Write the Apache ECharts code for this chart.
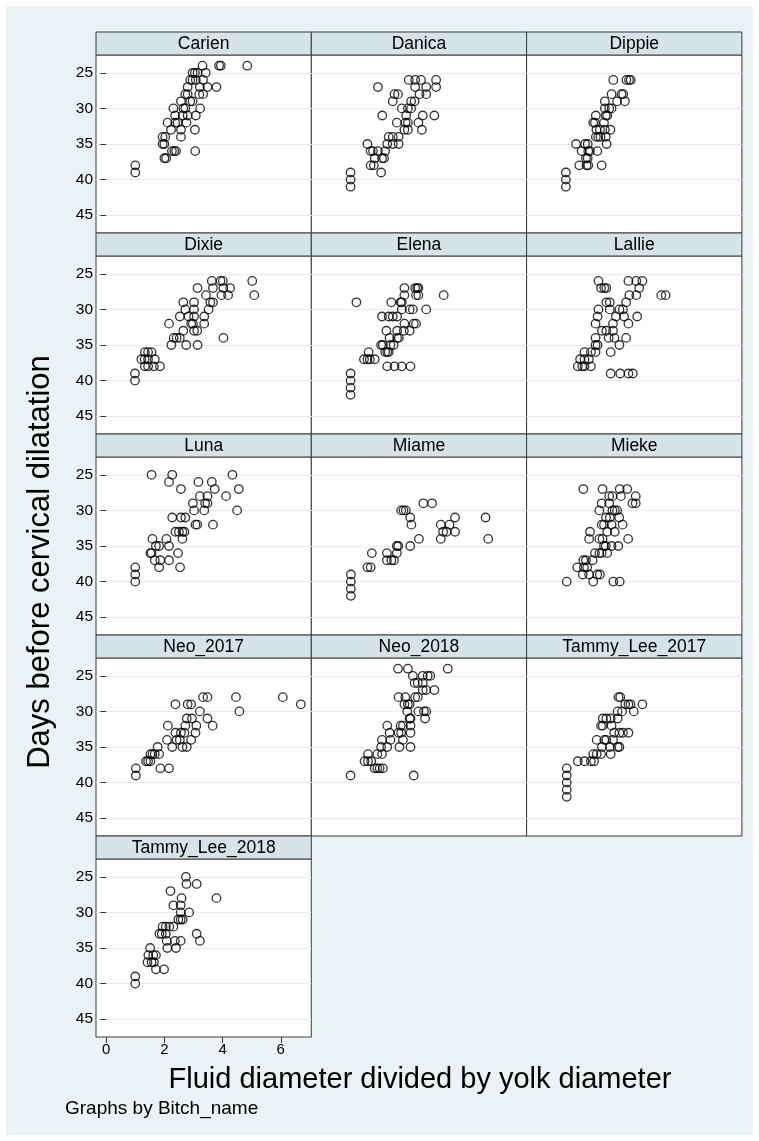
<!DOCTYPE html>
<html>
<head>
<meta charset="utf-8">
<script src="https://cdn.jsdelivr.net/npm/echarts@6/dist/echarts.min.js"></script>
<style>
    body{ margin:0; background:#fff; }
    #wrap{ position:relative; width:759px; height:1141px; background:#fff; }
    #bg{ position:absolute; left:6px; top:6px; width:747px; height:1129px; background:#eaf2f3; }
    #chart{ position:absolute; left:0; top:0; width:759px; height:1141px; }
</style>
</head>
<body>
<div id="wrap">
    <div id="bg"></div>
    <div id="chart"></div>
</div>
<script>
/* 面板名称 */
const panelNames = [
    "Carien", "Danica", "Dippie",
    "Dixie", "Elena", "Lallie",
    "Luna", "Miame", "Mieke",
    "Neo_2017", "Neo_2018", "Tammy_Lee_2017",
    "Tammy_Lee_2018"
];

/* 刻度 */
const yTicks = [25, 30, 35, 40, 45];
const xTicks = [0, 2, 4, 6];

/* 数据 [x, y] */
const carien = [
    [3.31,24],[3.88,24],[3.94,24],[4.85,24],
    [2.97,25],[3.05,25],[3.14,25],[3.42,25],
    [2.89,26],[2.97,26],[3.08,26],[3.33,26],
    [2.80,27],[3.22,27],[3.48,27],[3.79,27],
    [2.72,28],[2.80,28],[3.20,28],[3.33,28],
    [2.57,29],[2.89,29],[2.97,29],
    [2.31,30],[2.65,30],[2.72,30],[3.23,30],
    [2.37,31],[2.63,31],[2.80,31],[3.08,31],
    [2.11,32],[2.37,32],[2.45,32],[2.76,32],
    [2.23,33],[2.57,33],[3.05,33],
    [1.94,34],[2.03,34],[2.57,34],
    [1.94,35],[2.00,35],
    [2.26,36],[2.34,36],[2.40,36],[3.06,36],
    [2.00,37],[2.06,37],
    [1.00,38],[1.00,39]
];

const danica = [
    [3.00,26],[3.22,26],[3.42,26],[3.94,26],
    [1.94,27],[3.22,27],[3.60,27],[3.94,27],
    [2.51,28],[2.63,28],[3.37,28],[3.60,28],
    [2.45,29],[3.08,29],[3.20,29],
    [2.76,30],[2.97,30],[3.08,30],
    [2.09,31],[2.91,31],[3.48,31],[3.88,31],
    [2.59,32],[2.89,32],[2.97,32],[3.33,32],
    [2.85,33],[2.97,33],[3.45,33],
    [2.31,34],[2.45,34],[2.65,34],
    [1.58,35],[2.26,35],[2.45,35],[2.65,35],
    [1.69,36],[1.77,36],[1.94,36],[2.19,36],
    [1.83,37],[2.08,37],[2.15,37],
    [1.69,38],[1.80,38],
    [1.00,39],[2.05,39],
    [1.00,40],[1.00,41]
];

const dippie = [
    [2.63,26],[3.08,26],[3.17,26],[3.23,26],
    [2.57,28],[2.91,28],[2.97,28],
    [2.34,29],[2.76,29],[3.03,29],
    [2.34,30],[2.49,30],[2.57,30],
    [2.03,31],[2.37,31],[2.42,31],
    [1.94,32],[2.00,32],[2.31,32],
    [2.05,33],[2.17,33],[2.34,33],[2.53,33],
    [2.03,34],[2.11,34],[2.19,34],[2.37,34],
    [1.35,35],[1.66,35],[1.75,35],[2.40,35],
    [1.54,36],[1.77,36],[1.83,36],[2.08,36],
    [1.69,37],[1.75,37],
    [1.46,38],[1.71,38],[1.77,38],[2.23,38],
    [1.00,39],[1.00,40],[1.00,41]
];

const dixie = [
    [3.63,26],[3.93,26],[4.01,26],[5.02,26],
    [3.14,27],[3.67,27],[4.03,27],[4.26,27],
    [3.43,28],[3.96,28],[4.19,28],[5.09,28],
    [2.65,29],[3.02,29],[3.58,29],[3.67,29],
    [2.72,30],[3.02,30],[3.52,30],
    [2.53,31],[2.83,31],[3.02,31],[3.37,31],
    [2.16,32],[2.92,32],[2.98,32],[3.37,32],
    [2.65,33],[3.02,33],[3.13,33],
    [2.32,34],[2.42,34],[2.53,34],[4.03,34],
    [2.24,35],[2.75,35],[3.14,35],
    [1.33,36],[1.44,36],[1.56,36],
    [1.21,37],[1.32,37],[1.44,37],[1.67,37],
    [1.33,38],[1.44,38],[1.64,38],[1.85,38],
    [0.99,39],[0.99,40]
];

const elena = [
    [2.85,27],[3.22,27],[3.29,27],[3.33,27],
    [2.85,28],[3.25,28],[3.33,28],[4.20,28],
    [1.20,29],[2.40,29],[2.72,29],[2.76,29],
    [2.76,30],[3.03,30],[3.14,30],[3.60,30],
    [2.08,31],[2.31,31],[2.45,31],[2.60,31],
    [2.85,32],[3.17,32],[3.25,32],
    [2.23,33],[2.60,33],[2.83,33],[3.03,33],
    [2.34,34],[2.60,34],[2.66,34],
    [2.05,35],[2.11,35],[2.37,35],[2.48,35],
    [1.62,36],[2.19,36],[2.26,36],[2.31,36],
    [1.46,37],[1.58,37],[1.66,37],[1.83,37],
    [2.26,38],[2.51,38],[2.76,38],[3.06,38],
    [1.00,39],[1.00,40],[1.00,41],[1.00,42]
];

const lallie = [
    [2.12,26],[3.15,26],[3.42,26],[3.63,26],
    [2.21,27],[2.32,27],[2.39,27],[3.52,27],
    [3.18,28],[3.42,28],[4.28,28],[4.43,28],
    [2.39,29],[2.51,29],[3.07,29],
    [2.12,30],[2.51,30],[2.84,30],[2.96,30],
    [2.09,31],[2.72,31],[3.00,31],[3.45,31],
    [2.02,32],[2.62,32],[3.15,32],
    [2.24,33],[2.39,33],[2.62,33],
    [2.02,34],[2.47,34],[2.67,34],[3.07,34],
    [2.02,35],[2.09,35],[2.84,35],
    [1.64,36],[1.86,36],[2.02,36],[2.54,36],
    [1.49,37],[1.64,37],[1.79,37],
    [1.41,38],[1.56,38],[1.64,38],[1.86,38],
    [2.54,39],[2.87,39],[3.15,39],[3.30,39]
];

const luna = [
    [1.56,25],[2.27,25],[4.34,25],
    [2.16,26],[3.17,26],[3.63,26],
    [2.57,27],[3.73,27],[4.56,27],
    [3.22,28],[3.48,28],[4.12,28],
    [2.98,29],[3.40,29],[3.48,29],
    [3.02,30],[3.37,30],[4.50,30],
    [2.27,31],[2.57,31],[2.72,31],
    [3.07,32],[3.13,32],[3.67,32],
    [2.38,33],[2.50,33],[2.62,33],[2.69,33],
    [1.59,34],[2.07,34],[2.62,34],
    [1.71,35],[1.82,35],[2.16,35],
    [1.52,36],[1.56,36],[2.47,36],
    [1.67,37],[1.86,37],[2.16,37],
    [1.00,38],[1.82,38],[2.54,38],
    [1.00,39],[1.00,40]
];

const miame = [
    [3.50,29],[3.80,29],
    [2.74,30],[2.82,30],[2.90,30],
    [3.05,31],[4.59,31],[5.64,31],
    [3.09,32],[4.10,32],[4.40,32],
    [4.18,33],[4.30,33],[4.59,33],
    [3.35,34],[4.10,34],[5.73,34],
    [2.59,35],[2.64,35],[3.05,35],
    [1.73,36],[2.25,36],[2.59,36],
    [2.25,37],[2.40,37],[2.49,37],
    [1.58,38],[1.69,38],
    [1.01,39],[1.01,40],[1.01,41],[1.01,42]
];

const mieke = [
    [1.60,27],[2.26,27],[2.85,27],[3.11,27],
    [2.49,28],[2.60,28],[2.89,28],[3.40,28],
    [2.23,29],[2.49,29],[3.29,29],[3.40,29],
    [2.15,30],[2.60,30],[2.68,30],[2.76,30],
    [2.38,31],[2.51,31],[2.83,31],
    [2.23,32],[2.31,32],[2.57,32],[2.95,32],
    [1.83,33],[2.42,33],[2.68,33],
    [1.80,34],[2.15,34],[2.26,34],[3.14,34],
    [2.31,35],[2.37,35],[2.57,35],[2.80,35],
    [2.00,36],[2.15,36],[2.23,36],[2.42,36],
    [1.60,37],[1.69,37],[1.92,37],
    [1.39,38],[1.62,38],[1.73,38],
    [1.58,39],[1.80,39],[2.08,39],[2.17,39],
    [1.03,40],[1.94,40],[2.63,40],[2.85,40]
];

const neo2017 = [
    [3.33,28],[3.48,28],[4.46,28],[6.07,28],
    [2.38,29],[2.80,29],[2.92,29],[6.69,29],
    [3.22,30],[4.58,30],
    [2.77,31],[2.95,31],[3.48,31],
    [2.12,32],[2.72,32],[3.10,32],[3.66,32],
    [2.38,33],[2.57,33],[2.69,33],[3.07,33],
    [2.09,34],[2.42,34],[2.53,34],[2.92,34],
    [1.77,35],[2.27,35],[2.62,35],[2.77,35],
    [1.52,36],[1.59,36],[1.67,36],[1.82,36],
    [1.37,37],[1.44,37],[1.52,37],
    [1.02,38],[1.86,38],[2.16,38],
    [1.02,39]
];

const neo2018 = [
    [2.63,24],[2.97,24],[4.34,24],
    [3.14,25],[3.48,25],[3.65,25],[3.74,25],
    [3.20,26],[3.31,26],[3.48,26],
    [3.48,27],[3.60,27],[3.88,27],
    [2.65,28],[2.88,28],[3.22,28],[3.31,28],
    [2.85,29],[2.97,29],[3.03,29],
    [2.95,30],[3.33,30],[3.52,30],[3.60,30],
    [3.03,31],[3.06,31],[3.56,31],
    [2.26,32],[2.72,32],[2.80,32],[3.06,32],
    [2.34,33],[2.65,33],[2.74,33],[3.06,33],
    [2.08,34],[2.37,34],[2.80,34],
    [2.05,35],[2.26,35],[2.68,35],[3.06,35],
    [1.60,36],[1.92,36],[2.08,36],
    [1.48,37],[1.60,37],[1.71,37],
    [1.83,38],[1.92,38],[2.00,38],[2.11,38],
    [1.00,39],[3.17,39]
];

const tammy2017 = [
    [2.81,28],[2.87,28],
    [3.04,29],[3.15,29],[3.22,29],[3.63,29],
    [2.78,30],[2.93,30],[3.33,30],
    [2.27,31],[2.39,31],[2.54,31],[2.78,31],
    [2.21,32],[2.27,32],[2.57,32],
    [2.66,33],[2.84,33],[2.96,33],[3.15,33],
    [2.06,34],[2.32,34],[2.39,34],[2.62,34],
    [2.24,35],[2.51,35],[2.78,35],[2.84,35],
    [1.94,36],[2.06,36],[2.21,36],[2.54,36],
    [1.41,37],[1.64,37],[1.86,37],[1.97,37],
    [1.03,38],[1.03,39],[1.03,40],[1.03,41],[1.03,42]
];

const tammy2018 = [
    [2.74,25],
    [2.76,26],[3.11,26],
    [2.21,27],
    [2.59,28],[3.79,28],
    [2.31,29],[2.56,29],
    [2.56,30],[2.85,30],
    [2.48,31],[2.56,31],[2.63,31],
    [1.94,32],[2.05,32],[2.17,32],[2.31,32],
    [1.83,33],[1.91,33],[2.05,33],[3.11,33],
    [2.08,34],[2.36,34],[2.56,34],[3.22,34],
    [1.51,35],[2.10,35],[2.40,35],
    [1.45,36],[1.62,36],[1.71,36],
    [1.42,37],[1.56,37],[1.64,37],
    [1.71,38],[1.99,38],
    [1.00,39],[1.00,40]
];

const panelData = [
    carien, danica, dippie,
    dixie, elena, lallie,
    luna, miame, mieke,
    neo2017, neo2018, tammy2017,
    tammy2018
];

/* 布局 */
const LEFT = 96;
const TOP = 32;
const COL_W = 215.3;
const ROW_H = 201;
const HEAD_H = 23;
const PLOT_H = 178;

const FONT = "'Liberation Sans', Arial, sans-serif";

const grids = [];
const xAxes = [];
const yAxes = [];
const series = [];
const graphics = [];

panelNames.forEach((name, i) => {

    const r = Math.floor(i / 3);
    const c = i % 3;

    const left = LEFT + c * COL_W;
    const top = TOP + r * ROW_H;

    grids.push({
        left: left,
        top: top + HEAD_H,
        width: COL_W,
        height: PLOT_H,
        show: true,
        backgroundColor: "#fff",
        borderColor: "#3a3a3a",
        borderWidth: 1
    });

    /* 只有最后一个面板显示 x 轴 */
    const bottomPanel = (i === 12);

    xAxes.push({
        type: "value",
        gridIndex: i,
        min: -0.35,
        max: 7.05,
        show: bottomPanel,
        axisLine: { show: false },
        splitLine: { show: false },
        axisTick: {
            show: true,
            length: 6,
            customValues: xTicks,
            lineStyle: { color: "#3a3a3a" }
        },
        axisLabel: {
            show: true,
            customValues: xTicks,
            margin: 5,
            fontSize: 15,
            color: "#000",
            fontFamily: FONT
        }
    });

    yAxes.push({
        type: "value",
        gridIndex: i,
        min: 22.5,
        max: 47.5,
        inverse: true,
        axisLine: { show: false },
        axisTick: {
            show: c === 0,
            length: 6,
            customValues: yTicks,
            lineStyle: { color: "#3a3a3a" }
        },
        axisLabel: {
            show: c === 0,
            customValues: yTicks,
            margin: 3,
            fontSize: 15.5,
            color: "#000",
            fontFamily: FONT
        },
        splitLine: {
            show: true,
            lineStyle: { color: "#e4eef0", width: 1 }
        }
    });

    series.push({
        type: "scatter",
        xAxisIndex: i,
        yAxisIndex: i,
        data: panelData[i],
        symbol: "circle",
        symbolSize: 8.5,
        silent: true,
        itemStyle: {
            color: "rgba(0,0,0,0)",
            borderColor: "#000",
            borderWidth: 1.3
        }
    });

    /* 标题条 */
    graphics.push({
        type: "rect",
        shape: { x: left, y: top, width: COL_W, height: HEAD_H },
        style: { fill: "#d6e3e9", stroke: "#3a3a3a", lineWidth: 1 },
        z: 10
    });

    graphics.push({
        type: "text",
        x: left + COL_W / 2,
        y: top + HEAD_H / 2 + 1,
        style: {
            text: name,
            fill: "#000",
            font: "17.5px " + FONT,
            align: "center",
            verticalAlign: "middle"
        },
        z: 11
    });
});

/* 轴标题 */
graphics.push({
    type: "text",
    x: 40,
    y: 562,
    rotation: Math.PI / 2,
    style: {
        text: "Days before cervical dilatation",
        fill: "#000",
        font: "31px " + FONT,
        align: "center",
        verticalAlign: "middle"
    },
    z: 11
});

graphics.push({
    type: "text",
    x: 420,
    y: 1080,
    style: {
        text: "Fluid diameter divided by yolk diameter",
        fill: "#000",
        font: "29px " + FONT,
        align: "center",
        verticalAlign: "middle"
    },
    z: 11
});

graphics.push({
    type: "text",
    x: 65,
    y: 1109,
    style: {
        text: "Graphs by Bitch_name",
        fill: "#000",
        font: "19px " + FONT,
        align: "left",
        verticalAlign: "middle"
    },
    z: 11
});

const chart = echarts.init(document.getElementById("chart"));

chart.setOption({
    animation: false,
    backgroundColor: "transparent",
    grid: grids,
    xAxis: xAxes,
    yAxis: yAxes,
    series: series,
    graphic: graphics
});
</script>
</body>
</html>
